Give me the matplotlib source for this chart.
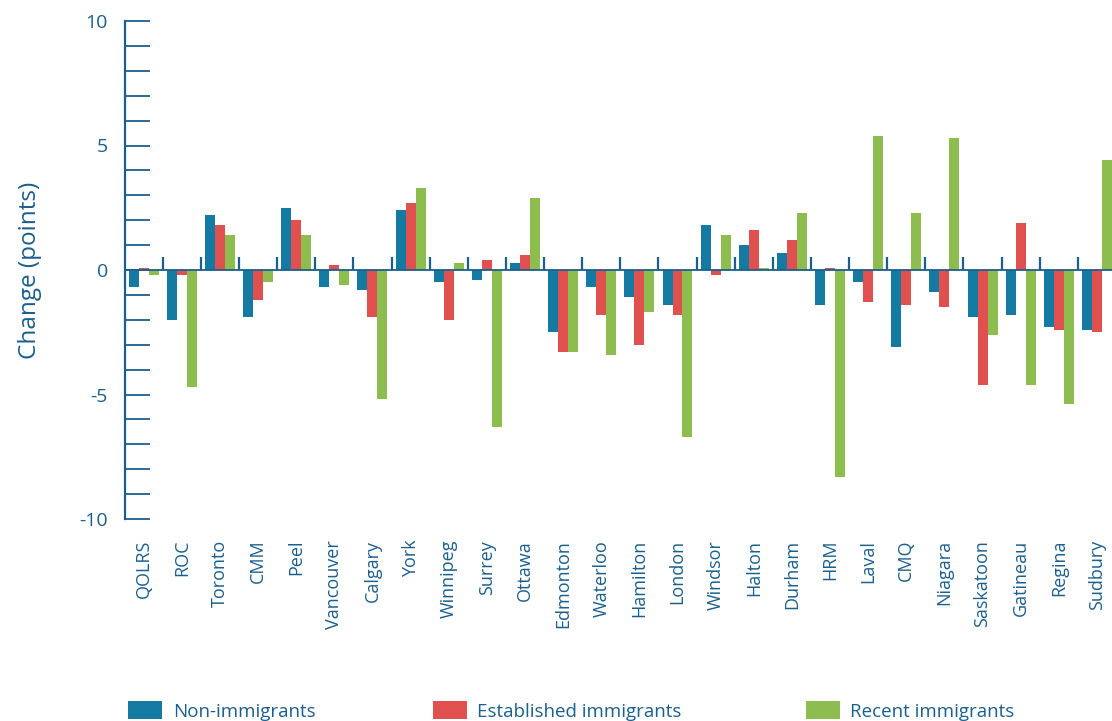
import numpy as np
import matplotlib.pyplot as plt
from matplotlib.patches import Rectangle
from matplotlib.ticker import MultipleLocator

plt.rcParams['font.family'] = ['Open Sans', 'DejaVu Sans']

regions = ["QOLRS", "ROC", "Toronto", "CMM", "Peel", "Vancouver", "Calgary", "York",
           "Winnipeg", "Surrey", "Ottawa", "Edmonton", "Waterloo", "Hamilton", "London",
           "Windsor", "Halton", "Durham", "HRM", "Laval", "CMQ", "Niagara", "Saskatoon",
           "Gatineau", "Regina", "Sudbury"]
non_immigrants = [-0.7, -2.0, 2.2, -1.9, 2.5, -0.7, -0.8, 2.4, -0.5, -0.4, 0.3, -2.5, -0.7,
                  -1.1, -1.4, 1.8, 1.0, 0.7, -1.4, -0.5, -3.1, -0.9, -1.9, -1.8, -2.3, -2.4]
established = [0.1, -0.2, 1.8, -1.2, 2.0, 0.2, -1.9, 2.7, -2.0, 0.4, 0.6, -3.3, -1.8,
               -3.0, -1.8, -0.2, 1.6, 1.2, 0.1, -1.3, -1.4, -1.5, -4.6, 1.9, -2.4, -2.5]
recent = [-0.2, -4.7, 1.4, -0.5, 1.4, -0.6, -5.2, 3.3, 0.3, -6.3, 2.9, -3.3, -3.4,
          -1.7, -6.7, 1.4, 0.1, 2.3, -8.3, 5.4, 2.3, 5.3, -2.6, -4.6, -5.4, 4.4]
series_names = ["Non-immigrants", "Established immigrants", "Recent immigrants"]

colors = ["#157aa2", "#e0504e", "#8cbd4e"]
ink = "#1b5f8c"

W, H = 1112, 721
fig = plt.figure(figsize=(W / 100, H / 100), dpi=100)
ax = fig.add_axes([124.6 / W, 1 - 519 / H, (1116 - 124.6) / W, (519 - 21) / H])

x = np.arange(len(regions))
bw = 0.262
for k, (vals, c) in enumerate(zip([non_immigrants, established, recent], colors)):
    ax.bar(x + (k - 1) * bw, vals, width=bw, color=c, linewidth=0, zorder=2)

ax.set_xlim(-0.5, len(regions) - 0.5)
ax.set_ylim(-10, 10)

# zero line with small group separators
ax.axhline(0, color=ink, lw=1.3, zorder=3)
ax.vlines(x[:-1] + 0.5, 0, 0.52, color=ink, lw=1.6, zorder=3)

for s in ["top", "right", "bottom"]:
    ax.spines[s].set_visible(False)
ax.spines["left"].set_color(ink)
ax.spines["left"].set_linewidth(1.6)

ax.yaxis.set_major_locator(MultipleLocator(5))
ax.yaxis.set_minor_locator(MultipleLocator(1))
ax.tick_params(axis="y", which="both", direction="in", length=18, width=1.3,
               color=ink, labelcolor=ink, labelsize=14, pad=12)
ax.set_yticks([-10, -5, 0, 5, 10])
ax.set_yticklabels(["-10", "-5", "0", "5", "10"])

ax.set_xticks(x)
ax.set_xticklabels(regions, rotation=90, va="top", ha="center")
ax.tick_params(axis="x", length=0, labelcolor=ink, labelsize=13, pad=15)

ax.set_ylabel("Change (points)", color=ink, fontsize=17.5, labelpad=27)

# legend along the bottom edge
sq_x = [128, 433, 806]
tx_x = [173, 477, 850]
for sx, tx, c, name in zip(sq_x, tx_x, colors, series_names):
    fig.patches.append(Rectangle((sx / W, 1 - 719 / H), 34 / W, 18 / H,
                                 transform=fig.transFigure, color=c, lw=0))
    fig.text(tx / W, 1 - 717 / H, name, color=ink, fontsize=13.5, va="baseline", ha="left")

fig.savefig("out.png", dpi=100)
